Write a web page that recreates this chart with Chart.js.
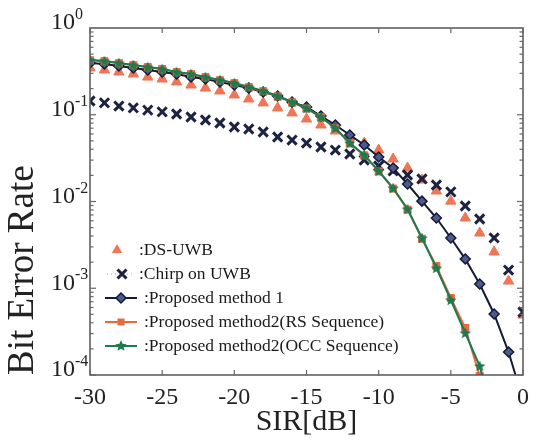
<!DOCTYPE html>
<html><head><meta charset="utf-8">
<script src="https://cdn.jsdelivr.net/npm/chart.js"></script>
<style>html,body{margin:0;padding:0;background:#fff}#wrap{width:537px;height:440px;position:relative}</style>
</head><body><div id="wrap"><canvas id="c"></canvas></div>
<script>
// ---- data ----
const sirDb = [-30,-29,-28,-27,-26,-25,-24,-23,-22,-21,-20,-19,-18,-17,-16,-15,-14,-13,-12,-11,-10,-9,-8,-7,-6,-5,-4,-3,-2,-1,0];
const dsUwb = [0.346,0.328,0.311,0.295,0.272,0.258,0.239,0.220,0.203,0.188,0.169,0.152,0.137,0.120,0.105,0.0893,0.0762,0.0650,0.0554,0.0472,0.0392,0.0309,0.0243,0.0177,0.0132,0.0101,0.00645,0.00433,0.00262,0.00121,0.000491];
const chirpUwb = [0.144,0.137,0.126,0.120,0.113,0.108,0.102,0.0942,0.0870,0.0803,0.0722,0.0685,0.0633,0.0554,0.0511,0.0472,0.0425,0.0392,0.0353,0.0301,0.0257,0.0225,0.0202,0.0182,0.0155,0.0129,0.00887,0.00628,0.00380,0.00162,0.000532];
const proposed1 = [0.395,0.385,0.365,0.346,0.328,0.311,0.295,0.272,0.258,0.239,0.220,0.203,0.183,0.1645,0.140,0.123,0.0967,0.0762,0.0584,0.0448,0.0326,0.0243,0.0159,0.0101,0.00645,0.00380,0.00217,0.00112,0.000505,0.000184,0.0000515];
const proposed2RS = [0.425,0.414,0.393,0.373,0.354,0.336,0.310,0.294,0.271,0.250,0.231,0.208,0.187,0.163,0.139,0.118,0.0935,0.0698,0.0468,0.0340,0.0222,0.0141,0.00805,0.00372,0.00180,0.000772,0.000348,0.0000974,null,null,null];
const proposed2OCC = [0.428,0.416,0.395,0.375,0.355,0.337,0.311,0.295,0.272,0.2515,0.232,0.209,0.188,0.1645,0.140,0.1196,0.0942,0.0704,0.0472,0.0344,0.0225,0.0143,0.00819,0.00380,0.00171,0.000732,0.000305,0.000127,0.0000303,null,null];
const xTickValues = [-30,-25,-20,-15,-10,-5,0];
const yTickExponents = [0,-1,-2,-3,-4];
const seriesLabels = [':DS-UWB', ':Chirp on UWB', ':Proposed method 1', ':Proposed method2(RS Sequence)', ':Proposed method2(OCC Sequence)'];

const FAM = "'Liberation Serif','Times New Roman',serif";
const C_DS = '#ee7657', C_CH = '#1d2242', C_M1 = '#151a35', C_M1F = '#4b5b8e', C_RS = '#e8693f', C_OCC = '#1e7a4e';

function starPath(g, cx, cy, r) {
  g.beginPath();
  for (let i = 0; i < 10; i++) {
    const a = -Math.PI / 2 + i * Math.PI / 5;
    const rr = i % 2 ? r * 0.45 : r;
    g.lineTo(cx + rr * Math.cos(a), cy + rr * Math.sin(a));
  }
  g.closePath();
}
function makeStar(r, fill) {
  const c = document.createElement('canvas');
  const s = Math.ceil(r * 2 + 2);
  c.width = s; c.height = s;
  const g = c.getContext('2d');
  starPath(g, s / 2, s / 2 + 0.5, r);
  g.fillStyle = fill; g.fill();
  return c;
}
const starImg = makeStar(6, C_OCC);

const mk = arr => sirDb.map((x, i) => ({x: x, y: arr[i]})).filter(p => p.y !== null);

const datasets = [
  {label: seriesLabels[0], data: mk(dsUwb), showLine: true, borderColor: 'rgba(236,140,120,0.35)', borderWidth: 1, borderDash: [1, 3],
   pointStyle: 'triangle', pointRadius: 6, pointBackgroundColor: C_DS, pointBorderColor: C_DS, pointBorderWidth: 1, order: 4},
  {label: seriesLabels[1], data: mk(chirpUwb), showLine: true, borderColor: 'rgba(120,130,160,0.35)', borderWidth: 1, borderDash: [1, 3],
   pointStyle: 'crossRot', pointRadius: 6.5, pointBorderColor: C_CH, pointBackgroundColor: C_CH, pointBorderWidth: 3, order: 3},
  {label: seriesLabels[2], data: mk(proposed1), borderColor: C_M1, borderWidth: 2,
   pointStyle: 'rectRot', pointRadius: 5, pointBackgroundColor: C_M1F, pointBorderColor: C_M1, pointBorderWidth: 1.5, order: 2},
  {label: seriesLabels[3], data: mk(proposed2RS), borderColor: C_RS, borderWidth: 2,
   pointStyle: 'rect', pointRadius: 5, pointBackgroundColor: C_RS, pointBorderColor: C_RS, pointBorderWidth: 1, order: 1},
  {label: seriesLabels[4], data: mk(proposed2OCC), borderColor: C_OCC, borderWidth: 2,
   pointStyle: starImg, pointRadius: 6, order: 0}
];

function drawMarker(ctx, kind, x, y) {
  ctx.save();
  if (kind === 0) { // triangle
    ctx.fillStyle = C_DS; ctx.beginPath();
    ctx.moveTo(x, y - 6); ctx.lineTo(x + 5.2, y + 3); ctx.lineTo(x - 5.2, y + 3); ctx.closePath(); ctx.fill();
  } else if (kind === 1) { // x
    ctx.strokeStyle = C_CH; ctx.lineWidth = 3; ctx.beginPath();
    ctx.moveTo(x - 4.5, y - 4.5); ctx.lineTo(x + 4.5, y + 4.5); ctx.moveTo(x + 4.5, y - 4.5); ctx.lineTo(x - 4.5, y + 4.5); ctx.stroke();
  } else if (kind === 2) { // diamond
    ctx.fillStyle = C_M1F; ctx.strokeStyle = C_M1; ctx.lineWidth = 1.5; ctx.beginPath();
    ctx.moveTo(x, y - 5); ctx.lineTo(x + 5, y); ctx.lineTo(x, y + 5); ctx.lineTo(x - 5, y); ctx.closePath(); ctx.fill(); ctx.stroke();
  } else if (kind === 3) { // square
    ctx.fillStyle = C_RS; ctx.fillRect(x - 3.5, y - 3.5, 7, 7);
  } else { // star
    starPath(ctx, x, y, 6); ctx.fillStyle = C_OCC; ctx.fill();
  }
  ctx.restore();
}

const decor = {
  id: 'decor',
  afterDraw(chart) {
    const ctx = chart.ctx, a = chart.chartArea, xs = chart.scales.x, ys = chart.scales.y;
    ctx.save();
    // frame
    ctx.strokeStyle = '#555'; ctx.lineWidth = 1.5;
    ctx.strokeRect(a.left, a.top, a.right - a.left, a.bottom - a.top);
    ctx.lineWidth = 1.2; ctx.strokeStyle = '#666';
    const seg = (x1, y1, x2, y2) => { ctx.beginPath(); ctx.moveTo(x1, y1); ctx.lineTo(x2, y2); ctx.stroke(); };
    xTickValues.forEach(v => {
      const px = xs.getPixelForValue(v);
      seg(px, a.bottom, px, a.bottom - 5); seg(px, a.top, px, a.top + 5);
    });
    for (let e = -4; e < 0; e++) {
      for (let k = 1; k < 10; k++) {
        const py = ys.getPixelForValue(k * Math.pow(10, e));
        const len = k === 1 ? 6 : 3.5;
        seg(a.left, py, a.left + len, py); seg(a.right, py, a.right - len, py);
      }
    }
    // y tick labels 10^n
    ctx.fillStyle = '#222';
    yTickExponents.forEach(e => {
      const py = ys.getPixelForValue(Math.pow(10, e));
      ctx.font = '24px ' + FAM; ctx.textAlign = 'right'; ctx.textBaseline = 'middle';
      ctx.fillText('10', 75, py - 5);
      ctx.font = '16px ' + FAM; ctx.textAlign = 'left';
      ctx.fillText(String(e), 75, py - 13);
    });
    // legend
    const rows = [250, 274, 298, 322, 346];
    ctx.font = '17.5px ' + FAM; ctx.textAlign = 'left'; ctx.textBaseline = 'middle'; ctx.fillStyle = '#1a1a1a';
    rows.forEach((ry, i) => {
      if (i === 1) {
        ctx.save(); ctx.strokeStyle = 'rgba(120,130,160,0.6)'; ctx.lineWidth = 1.2; ctx.setLineDash([1, 3]);
        seg(107, ry, 135, ry); ctx.restore();
      } else if (i >= 2) {
        ctx.save(); ctx.strokeStyle = [C_M1, C_RS, C_OCC][i - 2]; ctx.lineWidth = 2; seg(105, ry, 137, ry); ctx.restore();
      }
      drawMarker(ctx, i, i === 0 ? 117 : (i === 1 ? 122 : 121), ry);
      ctx.fillStyle = '#1a1a1a';
      ctx.fillText(chart.data.datasets[i].label, i < 2 ? 139 : 144, ry);
    });
    ctx.restore();
  }
};

new Chart(document.getElementById('c'), {
  type: 'line',
  data: {datasets: datasets},
  options: {
    responsive: true, maintainAspectRatio: false, animation: false,
    layout: {padding: {top: 28, right: 13, left: 0, bottom: 0}},
    elements: {line: {tension: 0}},
    plugins: {legend: {display: false}, tooltip: {enabled: false}},
    scales: {
      x: {
        type: 'linear', min: -30, max: 0,
        afterBuildTicks: s => { s.ticks = xTickValues.map(v => ({value: v})); },
        afterFit: s => { s.height = 65; },
        grid: {display: false, drawTicks: false}, border: {display: false},
        ticks: {font: {family: FAM, size: 24}, color: '#222', padding: 8, maxRotation: 0, autoSkip: false, callback: v => String(v)},
        title: {display: true, text: 'SIR[dB]', font: {family: FAM, size: 30, lineHeight: 1}, color: '#222', padding: {top: 0, bottom: 3}}
      },
      y: {
        type: 'logarithmic', min: 1e-4, max: 1,
        afterFit: s => { s.width = 90; },
        grid: {display: false, drawTicks: false}, border: {display: false},
        ticks: {display: false},
        title: {display: true, text: 'Bit Error Rate', align: 'start', font: {family: FAM, size: 37, lineHeight: 1}, color: '#222', padding: {top: 5, bottom: 0}}
      }
    }
  },
  plugins: [decor]
});
</script>
</body></html>
